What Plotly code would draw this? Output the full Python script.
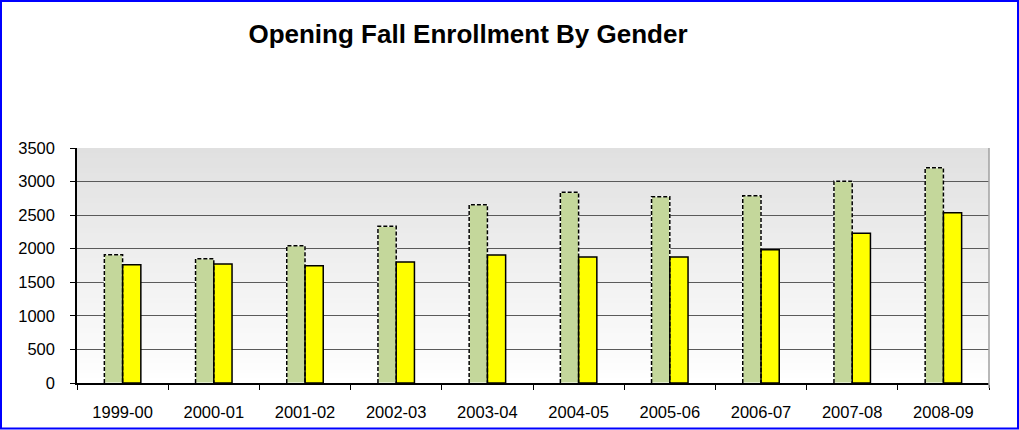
import plotly.graph_objects as go

# ---- data ----
categories = ["1999-00", "2000-01", "2001-02", "2002-03", "2003-04",
              "2004-05", "2005-06", "2006-07", "2007-08", "2008-09"]
female = [1910, 1850, 2045, 2333, 2655, 2840, 2775, 2790, 3005, 3205]
male = [1760, 1772, 1747, 1802, 1905, 1877, 1877, 1985, 2230, 2537]
y_ticks = [0, 500, 1000, 1500, 2000, 2500, 3000, 3500]
title_text = "Opening Fall Enrollment By Gender"

# ---- layout constants (pixels) ----
W, H = 1019, 430
ML, MR, MT, MB = 77, 30, 148, 47
PW, PH = W - ML - MR, H - MT - MB
BAR_W = 0.2
FONT = "Arial, 'Liberation Sans', sans-serif"

idx = list(range(len(categories)))

fig = go.Figure()
fig.add_trace(go.Bar(
    x=idx, y=female, width=BAR_W, offset=-BAR_W, name="Female",
    marker=dict(color="#c4d79b", line=dict(color="white", width=1)),
))
fig.add_trace(go.Bar(
    x=idx, y=male, width=BAR_W, offset=0, name="Male",
    marker=dict(color="#ffff00", line=dict(color="black", width=1.5)),
))

# dashed outline of the first series, derived from its values
ox, oy = [], []
for i, v in zip(idx, female):
    ox += [i - BAR_W, i - BAR_W, i, i, None]
    oy += [0, v, v, 0, None]
fig.add_trace(go.Scatter(
    x=ox, y=oy, mode="lines", showlegend=False, hoverinfo="skip",
    line=dict(color="black", width=1.5, dash="4px,2px"), cliponaxis=False,
))


def px_x(p):
    return (p - ML) / PW


def px_y(p):
    return (H - MB - p) / PH


shapes = []
# vertical gradient of the plot area
N = 47
top = (224, 224, 224)
bot = (255, 255, 255)
for k in range(N):
    t = (k + 0.5) / N  # 0 at bottom, 1 at top
    c = tuple(round(bot[j] + (top[j] - bot[j]) * t) for j in range(3))
    shapes.append(dict(type="rect", xref="paper", yref="paper",
                       x0=0, x1=1, y0=k / N, y1=(k + 1) / N,
                       fillcolor="rgb(%d,%d,%d)" % c, line=dict(width=0),
                       layer="below"))
# right border of plot area
shapes.append(dict(type="line", xref="paper", yref="paper",
                   x0=1, x1=1, y0=-5 / PH, y1=1,
                   line=dict(color="#a0a0a0", width=1.5)))
# blue outer frame
shapes.append(dict(type="rect", xref="paper", yref="paper",
                   x0=px_x(1), x1=px_x(1018), y0=px_y(428.5), y1=px_y(1),
                   line=dict(color="#0000ff", width=2), fillcolor="rgba(0,0,0,0)"))

fig.update_layout(
    width=W, height=H, autosize=False,
    margin=dict(l=ML, r=MR, t=MT, b=MB, autoexpand=False),
    paper_bgcolor="white", plot_bgcolor="rgba(0,0,0,0)",
    barmode="overlay", showlegend=False,
    font=dict(family=FONT, color="black", size=16),
    title=dict(text="<b>" + title_text + "</b>", font=dict(size=26, family=FONT),
               xref="container", x=468 / W, xanchor="center",
               yref="container", y=1 - 34 / H, yanchor="middle"),
    shapes=shapes,
)
fig.update_xaxes(
    range=[-0.5, len(categories) - 0.5], automargin=False,
    tickmode="array", tickvals=idx, ticktext=categories, ticks="",
    minor=dict(tickmode="linear", tick0=-0.5, dtick=1, ticks="outside",
               ticklen=5, tickcolor="black", tickwidth=1, showgrid=False),
    showline=True, linecolor="black", linewidth=1.5,
    showgrid=False, zeroline=False, ticklabelstandoff=13,
    tickfont=dict(size=16.5),
)
fig.update_yaxes(
    range=[0, 3500], tickmode="array", tickvals=y_ticks, automargin=False,
    ticks="outside", ticklen=5, tickcolor="black",
    showline=True, linecolor="black", linewidth=1.5,
    showgrid=True, gridcolor="#5a5a5a", gridwidth=1, zeroline=False,
    ticklabelstandoff=12, tickfont=dict(size=16.5),
)

fig.write_html("out.html",
               config={"displayModeBar": False, "responsive": False},
               post_script="document.body.style.margin='0';"
                           "document.body.style.overflow='hidden';")
